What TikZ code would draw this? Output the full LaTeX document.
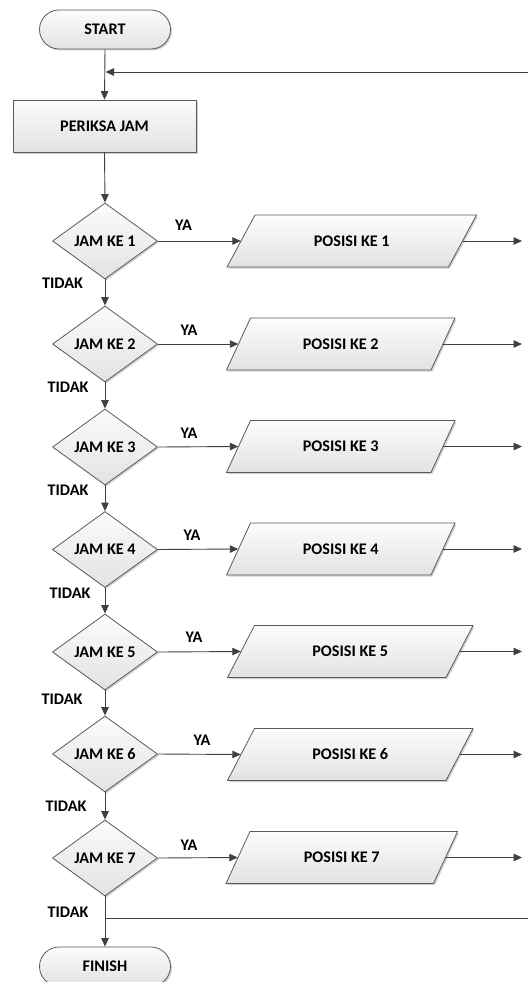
\documentclass[tikz,border=0pt]{standalone}
\usepackage{fontspec}
\setmainfont{Carlito}
\usetikzlibrary{arrows.meta,shapes.geometric,shadows}
\definecolor{linecol}{RGB}{64,64,64}
\definecolor{bordercol}{RGB}{90,90,90}
\definecolor{filltop}{RGB}{252,252,252}
\definecolor{fillbot}{RGB}{226,226,226}
\tikzset{
  lbl/.style={font=\bfseries\fontsize{16.2}{19}\selectfont, text=black, inner sep=0pt},
  shapefill/.style={draw=bordercol, line width=0.8pt, top color=filltop, bottom color=fillbot,
    drop shadow={shadow xshift=1.5pt, shadow yshift=-1.5pt, fill=black, opacity=0.18}},
  termbox/.style={shapefill, lbl, rectangle, rounded corners=19.5pt, minimum width=131pt, minimum height=39pt},
  procbox/.style={shapefill, lbl, rectangle, minimum width=183pt, minimum height=52pt},
  decbox/.style={shapefill, lbl, diamond, aspect=1.4, minimum width=105pt, minimum height=76pt},
  paratext/.style={lbl, rectangle, minimum height=52pt},
  arr/.style={draw=linecol, line width=0.9pt, -{Triangle[length=8.5pt,width=7.5pt]}},
  plainline/.style={draw=linecol, line width=0.9pt},
}
\begin{document}
\begin{tikzpicture}[x=1pt,y=-1pt]
\useasboundingbox (0,0) rectangle (528,982);
\fill[white] (0,0) rectangle (528,982);

\node[termbox] (start) at (105,29.5) {START};
\node[procbox] (periksa) at (104.5,126) {PERIKSA JAM};

\foreach \i/\y in {1/241,2/344,3/447,4/549.5,5/652,6/754,7/858}
  \node[decbox] (d\i) at (105,\y) {JAM KE \i};

\foreach \i/\y/\l/\r/\s in {1/241/241/462.5/28, 2/344/238.5/443/24, 3/446.5/238.5/443/24,
    4/549/238.5/443/24, 5/651.5/241/459.5/27, 6/754.5/241/459.5/27, 7/857.5/238/445.5/24}{
  \path[shapefill] ({\l-\s/2},{\y+26}) -- ({\l+\s/2},{\y-26}) -- ({\r+\s/2},{\y-26}) -- ({\r-\s/2},{\y+26}) -- cycle;
  \node[paratext, minimum width={\r-\l}] (p\i) at ({(\l+\r)/2},\y) {POSISI KE \i};
  \coordinate (o\i) at (522,\y);
}

\node[termbox] (finish) at (105,966.5) {FINISH};

% labels
\foreach \i/\x/\y in {1/183.5/225,2/189/330,3/189/433,4/192/535,5/194/637,6/202/740,7/189/845}
  \node[lbl] (ya\i) at (\x,\y) {YA};
\foreach \i/\x/\y in {1/62.5/283,2/68/387,3/68/490,4/70/593,5/62/699,6/66/806,7/68/912}
  \node[lbl] (tidak\i) at (\x,\y) {TIDAK};

% connectors
\coordinate (loopin) at (528,72);
\coordinate (loopjoin) at (105.5,72);
\coordinate (endjoin) at (105,918);
\coordinate (endout) at (528,918);

\draw[arr] (start.south) -- (periksa.north);
\draw[arr] (loopin) -- (loopjoin);
\draw[arr] (periksa.south) -- (d1.north);
\foreach \i [evaluate=\i as \j using int(\i+1)] in {1,...,6}
  \draw[arr] (d\i.south) -- (d\j.north);
\foreach \i in {1,...,7}{
  \draw[arr] (d\i.east) -- (p\i.west);
  \draw[arr] (p\i.east) -- (o\i);
}
\draw[arr] (d7.south) -- (finish.north);
\draw[plainline] (endjoin) -- (endout);
\end{tikzpicture}
\end{document}
